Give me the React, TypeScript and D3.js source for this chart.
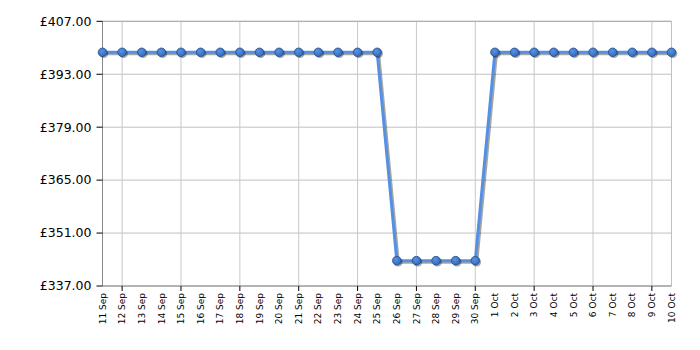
import React from "react";
import * as d3 from "d3";

const categories: string[] = [
  "11 Sep", "12 Sep", "13 Sep", "14 Sep", "15 Sep", "16 Sep", "17 Sep", "18 Sep", "19 Sep", "20 Sep",
  "21 Sep", "22 Sep", "23 Sep", "24 Sep", "25 Sep", "26 Sep", "27 Sep", "28 Sep", "29 Sep", "30 Sep",
  "1 Oct", "2 Oct", "3 Oct", "4 Oct", "5 Oct", "6 Oct", "7 Oct", "8 Oct", "9 Oct", "10 Oct",
];
const prices: number[] = [
  398.8, 398.8, 398.8, 398.8, 398.8, 398.8, 398.8, 398.8, 398.8, 398.8,
  398.8, 398.8, 398.8, 398.8, 398.8, 343.7, 343.7, 343.7, 343.7, 343.7,
  398.8, 398.8, 398.8, 398.8, 398.8, 398.8, 398.8, 398.8, 398.8, 398.8,
];
const yTicks: number[] = [337, 351, 365, 379, 393, 407];
const majorTickCategories: string[] = ["12 Sep", "15 Sep", "18 Sep", "21 Sep", "24 Sep", "27 Sep", "30 Sep", "3 Oct", "6 Oct", "9 Oct"];

const W = 700, H = 350;
const M = { left: 102.5, right: 700 - 671.5, top: 21.3, bottom: 350 - 286 };

export default function App() {
  const x = d3.scalePoint<string>().domain(categories).range([M.left, W - M.right]);
  const y = d3.scaleLinear().domain([337, 407]).range([H - M.bottom, M.top]);
  const data = categories.map((c, i) => ({ c, v: prices[i] }));
  const line = d3.line<{ c: string; v: number }>().x(d => x(d.c)!).y(d => y(d.v));
  const path = line(data)!;
  const font = "Verdana, 'DejaVu Sans', sans-serif";
  const x0 = M.left, x1 = W - M.right, y0 = M.top, y1 = H - M.bottom;
  return (
    <svg width={W} height={H} style={{ position: "absolute", left: 0, top: 0, background: "#fff" }}>
      <defs>
        <radialGradient id="dotg" cx="40%" cy="35%" r="70%">
          <stop offset="0%" stopColor="#5b93e0" />
          <stop offset="100%" stopColor="#2f66b8" />
        </radialGradient>
      </defs>
      {yTicks.map(t => (
        <line key={"h" + t} x1={x0} x2={x1} y1={y(t)} y2={y(t)} stroke="#c0c0c0" strokeWidth={1} />
      ))}
      {majorTickCategories.map(c => (
        <line key={"v" + c} x1={x(c)} x2={x(c)} y1={y0} y2={y1} stroke="#c8c8c8" strokeWidth={1} />
      ))}
      <line x1={x1} x2={x1} y1={y0} y2={y1} stroke="#c0c0c0" strokeWidth={1} />
      <line x1={x0} x2={x1} y1={y0} y2={y0} stroke="#a8a8a8" strokeWidth={1} />
      <line x1={x0} x2={x0} y1={y0} y2={y1} stroke="#888" strokeWidth={1} />
      <line x1={x0} x2={x1} y1={y1} y2={y1} stroke="#888" strokeWidth={1} />
      {yTicks.map(t => (
        <g key={"yt" + t}>
          <line x1={x0 - 6} x2={x0} y1={y(t)} y2={y(t)} stroke="#000" strokeWidth={1} />
          <text x={x0 - 11} y={y(t)} dy="0.35em" textAnchor="end" fontFamily={font} fontSize={12.5} fill="#000">
            {"£" + t.toFixed(2)}
          </text>
        </g>
      ))}
      {majorTickCategories.map(c => (
        <line key={"xt" + c} x1={x(c)} x2={x(c)} y1={y1} y2={y1 + 5} stroke="#000" strokeWidth={1} />
      ))}
      {categories.map(c => (
        <text key={"xl" + c} transform={`translate(${x(c)},${y1 + 7}) rotate(-90)`} textAnchor="end" dy="0.35em"
          fontFamily={font} fontSize={9} fill="#000">
          {c}
        </text>
      ))}
      <path d={path} transform="translate(1.5,1.5)" fill="none" stroke="#000" strokeOpacity={0.35} strokeWidth={3} strokeLinejoin="round" />
      <path d={path} fill="none" stroke="#5590e2" strokeWidth={3} strokeLinejoin="round" />
      {data.map(d => (
        <circle key={"s" + d.c} cx={x(d.c)! + 1.3} cy={y(d.v) + 1.3} r={4.5} fill="#000" fillOpacity={0.35} />
      ))}
      {data.map(d => (
        <circle key={"p" + d.c} cx={x(d.c)} cy={y(d.v)} r={4.3} fill="url(#dotg)" stroke="#24508f" strokeWidth={0.8} />
      ))}
    </svg>
  );
}
